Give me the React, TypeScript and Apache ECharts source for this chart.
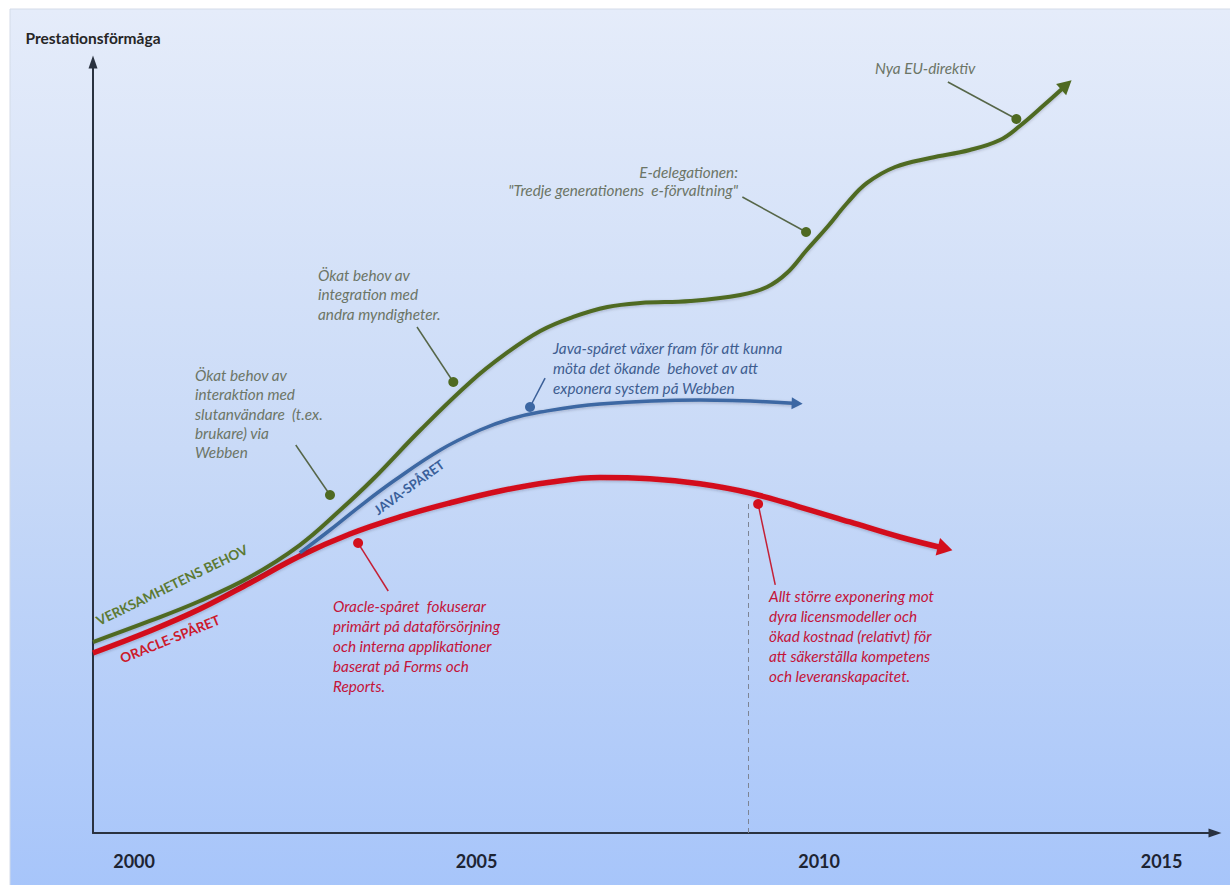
import React, { useEffect, useRef } from "react";
import * as echarts from "echarts";

// ---------- data (years on x, performance index 0-100 on y) ----------
const yearTicks = [2000, 2005, 2010, 2015];
const xMin = 1999.4;
const xMax = 2015.78;

const greenX = [1999.4, 2000.23, 2000.96, 2001.69, 2002.42, 2003.01, 2003.49, 2004.18, 2004.91, 2005.42, 2005.93, 2006.41, 2006.91, 2007.39, 2008.12, 2008.85, 2009.24, 2009.53, 2009.82, 2010.12, 2010.41, 2010.7, 2011.11, 2011.62, 2012.2, 2012.64, 2012.93, 2013.3, 2013.61];
const greenY = [24.77, 27.5, 30.09, 33.2, 37.35, 41.89, 45.91, 52.27, 58.5, 62.13, 65.11, 66.93, 68.22, 68.74, 69.0, 69.78, 70.82, 72.63, 75.62, 78.6, 81.71, 84.31, 86.38, 87.55, 88.59, 89.88, 91.7, 94.55, 97.02];

const blueX = [2002.42, 2002.86, 2003.3, 2003.81, 2004.47, 2005.05, 2005.49, 2005.93, 2006.8, 2008.26, 2009.68];
const blueY = [36.32, 39.3, 42.41, 45.78, 49.68, 52.27, 53.7, 54.6, 55.64, 56.16, 55.71];

const redX = [1999.4, 2000.23, 2000.96, 2001.69, 2002.42, 2003.15, 2003.88, 2004.61, 2005.34, 2006.07, 2006.8, 2007.53, 2008.26, 2008.99, 2009.72, 2010.45, 2011.18, 2011.84];
const redY = [23.35, 26.2, 29.05, 32.43, 35.93, 38.78, 40.99, 42.8, 44.36, 45.5, 46.1, 45.95, 45.3, 44.1, 42.28, 40.34, 38.39, 36.9];

const greenDotX = [2002.86, 2004.66, 2009.81, 2012.88];
const greenDotY = [43.84, 58.5, 77.95, 92.61];
const greenLeadX = [2002.36, 2004.13, 2008.88, 2011.88];
const greenLeadY = [50.32, 65.63, 82.49, 97.41];

const blueDotX = [2005.78];
const blueDotY = [55.25];
const blueLeadX = [2006.0];
const blueLeadY = [59.01];

const redDotX = [2003.27, 2009.11];
const redDotY = [37.61, 42.67];
const redLeadX = [2003.71, 2009.36];
const redLeadY = [31.39, 32.17];

const markerYear = [2008.96];
const markerTop = [42.8];

const yAxisTitle = "Prestationsförmåga";
const curveLabels = ["VERKSAMHETENS BEHOV", "ORACLE-SPÅRET", "JAVA-SPÅRET"];
const greenNotes = [
  "Ökat behov av\ninteraktion med\nslutanvändare  (t.ex.\nbrukare) via\nWebben",
  "Ökat behov av\nintegration med\nandra myndigheter.",
  "E-delegationen:\n\"Tredje generationens  e-förvaltning\"",
  "Nya EU-direktiv",
];
const blueNotes = ["Java-spåret växer fram för att kunna\nmöta det ökande  behovet av att\nexponera system på Webben"];
const redNotes = [
  "Oracle-spåret  fokuserar\nprimärt på dataförsörjning\noch interna applikationer\nbaserat på Forms och\nReports.",
  "Allt större exponering mot\ndyra licensmodeller och\nökad kostnad (relativt) för\natt säkerställa kompetens\noch leveranskapacitet.",
];

// ---------- styles ----------
const FONT = "Lato, 'Open Sans', sans-serif";
const GREEN = "#4f6a22";
const BLUE = "#3c67a3";
const RED = "#d3101c";
const GREEN_TXT = "#6c7566";
const BLUE_TXT = "#3e5d90";
const RED_TXT = "#c4143a";
const NOTE_SIZE = 15.3;

const pairs = (xs: number[], ys: number[]) => xs.map((x, i) => [x, ys[i]]);

export default function App() {
  const ref = useRef<HTMLDivElement>(null);

  useEffect(() => {
    const chart = echarts.init(ref.current!, null, { renderer: "svg" });

    const lineData = (xs: number[], ys: number[], color: string, size: number[], rot: number) =>
      pairs(xs, ys).map((p, i) =>
        i === xs.length - 1
          ? { value: p, symbol: "triangle", symbolSize: size, symbolRotate: rot, itemStyle: { color, opacity: 1 } }
          : { value: p, symbol: "none" }
      );

    const leaders = [
      ...greenDotX.map((x, i) => ({ coords: [[x, greenDotY[i]], [greenLeadX[i], greenLeadY[i]]], lineStyle: { color: "#566648" } })),
      ...blueDotX.map((x, i) => ({ coords: [[x, blueDotY[i]], [blueLeadX[i], blueLeadY[i]]], lineStyle: { color: "#3a5f98" } })),
      ...redDotX.map((x, i) => ({ coords: [[x, redDotY[i]], [redLeadX[i], redLeadY[i]]], lineStyle: { color: "#c42036" } })),
    ];
    const dots = [
      ...pairs(greenDotX, greenDotY).map((p) => ({ value: p, itemStyle: { color: GREEN, opacity: 1 } })),
      ...pairs(blueDotX, blueDotY).map((p) => ({ value: p, itemStyle: { color: BLUE, opacity: 1 } })),
      ...pairs(redDotX, redDotY).map((p) => ({ value: p, itemStyle: { color: RED, opacity: 1 } })),
    ];

    const noteText = (text: string, x: number, y: number, color: string, lh: number, align = "left") => ({
      type: "text",
      x,
      y,
      silent: true,
      style: { text, fill: color, font: `italic ${NOTE_SIZE}px ${FONT}`, lineHeight: lh, textAlign: align, textVerticalAlign: "top" },
    });
    const curveText = (text: string, x: number, y: number, deg: number, color: string, size: number) => ({
      type: "text",
      x,
      y,
      rotation: (deg * Math.PI) / 180,
      silent: true,
      style: { text, fill: color, font: `bold ${size}px ${FONT}`, textAlign: "center", textVerticalAlign: "middle" },
    });

    const lineShadow = { shadowColor: "rgba(20,30,50,0.25)", shadowBlur: 3, shadowOffsetY: 1 };

    const build = (rg: number, rb: number, rr: number) => ({
      animation: false,
      backgroundColor: "#ffffff",
      grid: { left: 93, right: 15, top: 62, bottom: 52, containLabel: false, outerBoundsMode: "none" },
      xAxis: {
        type: "value",
        min: xMin,
        max: xMax,
        axisLine: { show: true, symbol: ["none", "triangle"], symbolSize: [9, 13], lineStyle: { color: "#2a3240", width: 2 } },
        axisTick: { show: false },
        splitLine: { show: false },
        axisLabel: {
          customValues: yearTicks,
          formatter: (v: number) => String(Math.round(v)),
          margin: 19,
          fontFamily: FONT,
          fontWeight: "bold",
          fontSize: 18,
          color: "#1d2433",
        },
      },
      yAxis: {
        type: "value",
        min: 0,
        max: 100,
        name: yAxisTitle,
        nameLocation: "end",
        nameGap: 16,
        nameTextStyle: { fontFamily: FONT, fontWeight: "bold", fontSize: 15.5, color: "#262626", align: "center" },
        axisLine: { show: true, symbol: ["none", "triangle"], symbolSize: [9, 13], lineStyle: { color: "#2a3240", width: 2 } },
        axisTick: { show: false },
        axisLabel: { show: false },
        splitLine: { show: false },
      },
      graphic: [
        {
          type: "rect",
          z: -10,
          silent: true,
          shape: { x: 10, y: 9, width: 1222, height: 878 },
          style: {
            fill: new echarts.graphic.LinearGradient(0, 0, 0, 1, [
              { offset: 0, color: "#e5ecfa" },
              { offset: 0.5, color: "#c9daf7" },
              { offset: 1, color: "#a7c5fa" },
            ]),
            stroke: "#d4dbe8",
            lineWidth: 1,
          },
        },
        curveText(curveLabels[0], 172, 585, 26, "#5c7a33", 13.5),
        curveText(curveLabels[1], 170, 639, 22, "#cc1a2c", 13.5),
        curveText(curveLabels[2], 409, 487, 36, "#3a5f9a", 13),
        noteText(greenNotes[0], 195, 365.5, GREEN_TXT, 19.3),
        noteText(greenNotes[1], 318, 265.5, GREEN_TXT, 19.2),
        noteText(greenNotes[2], 738, 162.5, GREEN_TXT, 18.5, "right"),
        noteText(greenNotes[3], 875, 59, GREEN_TXT, 18),
        noteText(blueNotes[0], 553, 338, BLUE_TXT, 20),
        noteText(redNotes[0], 333, 596, RED_TXT, 20),
        noteText(redNotes[1], 769, 585.5, RED_TXT, 20),
      ],
      series: [
        {
          id: "marker",
          type: "lines",
          coordinateSystem: "cartesian2d",
          silent: true,
          z: 1,
          data: markerYear.map((x, i) => ({ coords: [[x, 0], [x, markerTop[i]]] })),
          lineStyle: { color: "#7d8494", width: 1, type: [5, 4], opacity: 1 },
        },
        {
          id: "red",
          type: "line",
          smooth: 0.4,
          showSymbol: true,
          showAllSymbol: true,
          z: 3,
          data: lineData(redX, redY, RED, [18, 15], rr),
          lineStyle: { color: RED, width: 5.5, ...lineShadow },
          itemStyle: { color: RED },
        },
        {
          id: "blue",
          type: "line",
          smooth: 0.4,
          showSymbol: true,
          showAllSymbol: true,
          z: 4,
          data: lineData(blueX, blueY, BLUE, [12, 11], rb),
          lineStyle: { color: BLUE, width: 3.5, ...lineShadow },
          itemStyle: { color: BLUE },
        },
        {
          id: "green",
          type: "line",
          smooth: 0.4,
          showSymbol: true,
          showAllSymbol: true,
          z: 5,
          data: lineData(greenX, greenY, GREEN, [15, 14], rg),
          lineStyle: { color: GREEN, width: 4, ...lineShadow },
          itemStyle: { color: GREEN },
        },
        {
          id: "leaders",
          type: "lines",
          coordinateSystem: "cartesian2d",
          silent: true,
          z: 6,
          data: leaders,
          lineStyle: { width: 1.5, opacity: 1 },
        },
        {
          id: "dots",
          type: "scatter",
          silent: true,
          z: 7,
          symbolSize: 10,
          data: dots,
        },
      ],
    });

    chart.setOption(build(45, -90, -120) as any);

    const rotFor = (xs: number[], ys: number[]) => {
      const n = xs.length;
      const a = chart.convertToPixel({ gridIndex: 0 }, [xs[n - 2], ys[n - 2]]) as number[];
      const b = chart.convertToPixel({ gridIndex: 0 }, [xs[n - 1], ys[n - 1]]) as number[];
      return (Math.atan2(-(b[1] - a[1]), b[0] - a[0]) * 180) / Math.PI - 90;
    };
    const rg = rotFor(greenX, greenY);
    const rb = rotFor(blueX, blueY);
    const rr = rotFor(redX, redY);
    chart.setOption(build(rg, rb, rr) as any, true);

    return () => chart.dispose();
  }, []);

  return <div ref={ref} style={{ position: "fixed", left: 0, top: 0, width: 1230, height: 885 }} />;
}
